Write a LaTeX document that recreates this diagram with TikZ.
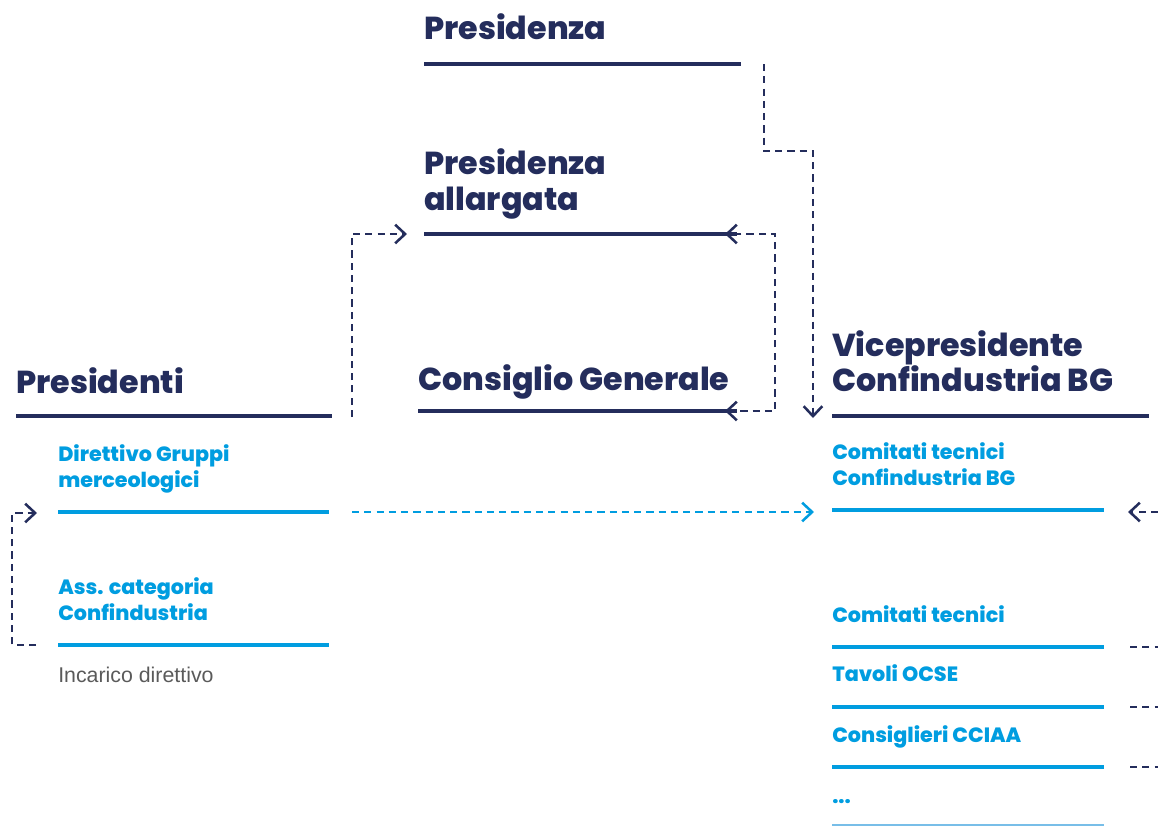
\documentclass[tikz,border=0pt]{standalone}
\usepackage{fontspec}
\usetikzlibrary{arrows.meta}
\newfontfamily\hfont{Poppins}[UprightFont=* ExtraBold]
\newfontfamily\bodyfont{Liberation Sans}
\definecolor{navy}{RGB}{36,45,92}
\definecolor{cblue}{RGB}{0,157,224}
\definecolor{lblue}{RGB}{120,190,232}
\definecolor{gtext}{RGB}{90,90,90}
\tikzset{
  title/.style={anchor=base west, inner sep=0pt, text=navy, font=\hfont\fontsize{23.8}{28}\selectfont},
  item/.style={anchor=base west, inner sep=0pt, text=cblue, font=\hfont\fontsize{15.5}{18}\selectfont},
  note/.style={anchor=base west, inner sep=0pt, text=gtext, font=\bodyfont\fontsize{16}{18}\selectfont},
  navyline/.style={draw=navy, line width=2.3pt},
  blueline/.style={draw=cblue, line width=2.3pt},
  thinline/.style={draw=lblue, line width=1.2pt},
  conn/.style={draw=navy, line width=1.9pt, dash pattern=on 5.4pt off 3.8pt, line join=miter},
  bconn/.style={conn, draw=cblue},
  tipend/.style={-{Straight Barb[length=7.5pt,width=14pt]}},
  tipboth/.style={{Straight Barb[length=7.5pt,width=14pt]}-{Straight Barb[length=7.5pt,width=14pt]}}
}
\begin{document}
\begin{tikzpicture}[x=0.75pt,y=-0.75pt]
\useasboundingbox (0,0) rectangle (1158,826);

% Presidenza
\node[title] (pres) at (424,39) {Presidenza};
\coordinate (presA) at (424,64);
\coordinate (presB) at (741,64);
\draw[navyline] (presA) -- (presB);

% Presidenza allargata
\node[title] (pa1) at (424,174) {Presidenza};
\node[title] (pa2) at (424,210) {allargata};
\coordinate (paA) at (424,234);
\coordinate (paB) at (737,234);
\draw[navyline] (paA) -- (paB);

% Consiglio Generale
\node[title] (cg) at (418,390) {Consiglio Generale};
\coordinate (cgA) at (418,411);
\coordinate (cgB) at (737,411);
\draw[navyline] (cgA) -- (cgB);

% Presidenti
\node[title] (pr) at (16,393) {Presidenti};
\coordinate (prA) at (16,416);
\coordinate (prB) at (332,416);
\draw[navyline] (prA) -- (prB);

% Vicepresidente
\node[title] (vp1) at (832,356) {Vicepresidente};
\node[title] (vp2) at (832,391) {Confindustria BG};
\coordinate (vpA) at (832,416);
\coordinate (vpB) at (1149,416);
\draw[navyline] (vpA) -- (vpB);

% left blue items
\node[item] (dg1) at (58,461) {Direttivo Gruppi};
\node[item] (dg2) at (58,487) {merceologici};
\coordinate (dgA) at (58,512);
\coordinate (dgB) at (329,512);
\draw[blueline] (dgA) -- (dgB);

\node[item] (ac1) at (58,594) {Ass. categoria};
\node[item] (ac2) at (58,620) {Confindustria};
\coordinate (acA) at (58,645);
\coordinate (acB) at (329,645);
\draw[blueline] (acA) -- (acB);

\node[note] (inc) at (58,682) {Incarico direttivo};

% right blue items
\node[item] (ct1) at (832,459) {Comitati tecnici};
\node[item] (ct2) at (832,485) {Confindustria BG};
\coordinate (ctA) at (832,510);
\coordinate (ctB) at (1104,510);
\draw[blueline] (ctA) -- (ctB);

\node[item] (cm) at (832,622) {Comitati tecnici};
\coordinate (cmA) at (832,647);
\coordinate (cmB) at (1104,647);
\draw[blueline] (cmA) -- (cmB);

\node[item] (to) at (832,681) {Tavoli OCSE};
\coordinate (toA) at (832,707);
\coordinate (toB) at (1104,707);
\draw[blueline] (toA) -- (toB);

\node[item] (cc) at (832,742) {Consiglieri CCIAA};
\coordinate (ccA) at (832,767);
\coordinate (ccB) at (1104,767);
\draw[blueline] (ccA) -- (ccB);

\node[item] (dots) at (832,803) {...};
\coordinate (dtA) at (832,825);
\coordinate (dtB) at (1104,825);
\draw[thinline] (dtA) -- (dtB);

% connectors
\coordinate (p0) at (764,64);
\coordinate (p1) at (764,151);
\coordinate (p2) at (813,151);
\coordinate (vpIn) at (813,418);
\draw[conn,tipend] (p0) -- (p1) -- (p2) -- (vpIn);

\coordinate (cgTip) at (725,411);
\coordinate (k1) at (775,411);
\coordinate (k2) at (775,234);
\coordinate (paTip) at (725,234);
\draw[conn,tipboth] (cgTip) -- (k1) -- (k2) -- (paTip);

\coordinate (l0) at (352,417);
\coordinate (l1) at (352,234);
\coordinate (paIn) at (407,234);
\draw[conn,tipend] (l0) -- (l1) -- (paIn);

\coordinate (a0) at (36,645);
\coordinate (a1) at (12,645);
\coordinate (a2) at (12,513);
\coordinate (dgIn) at (37,513);
\draw[conn,tipend] (a0) -- (a1) -- (a2) -- (dgIn);

\coordinate (b0) at (352,512);
\coordinate (ctIn) at (814,512);
\draw[bconn,tipend] (b0) -- (ctIn);

\coordinate (r0) at (1158,512);
\coordinate (ctR) at (1128,512);
\draw[conn,tipend] (r0) -- (ctR);

\coordinate (s1a) at (1130,647);
\coordinate (s1b) at (1158,647);
\draw[conn] (s1a) -- (s1b);
\coordinate (s2a) at (1130,707);
\coordinate (s2b) at (1158,707);
\draw[conn] (s2a) -- (s2b);
\coordinate (s3a) at (1130,767);
\coordinate (s3b) at (1158,767);
\draw[conn] (s3a) -- (s3b);
\end{tikzpicture}
\end{document}
